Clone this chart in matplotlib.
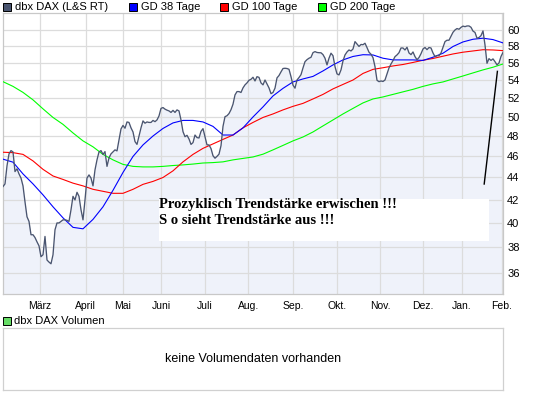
import matplotlib
matplotlib.use('Agg')
import matplotlib.pyplot as plt
import numpy as np
from matplotlib.patches import Rectangle
from matplotlib.ticker import FixedLocator, NullLocator

# ---------------- data ----------------
# daily closes of dbx DAX (trading-day index 0 .. 250, Feb 2009 - Feb 2010)
price = [
    43.17, 43.41, 45.09, 46.24, 46.56, 46.43, 44.55, 44.81, 44.33, 43.95,
    43.23, 41.80, 40.51, 40.12, 39.01, 39.01, 38.78, 38.43, 38.11, 37.25,
    37.40, 38.87, 36.99, 36.83, 36.70, 37.40, 39.42, 39.99, 39.99, 40.12,
    40.25, 40.25, 40.21, 40.12, 41.11, 42.29, 41.97, 42.65, 42.29, 41.11,
    40.25, 41.97, 43.95, 44.24, 43.95, 43.23, 44.71, 45.66, 46.43, 46.56,
    46.19, 46.46, 45.04, 45.85, 46.24, 46.43, 46.63, 46.53, 47.62, 48.73,
    49.09, 48.80, 49.45, 49.40, 48.84, 48.42, 47.45, 47.17, 48.01, 48.84,
    49.56, 49.32, 49.45, 49.40, 49.40, 49.61, 49.48, 49.66, 50.08, 50.88,
    50.97, 50.80, 50.69, 50.61, 50.45, 50.67, 50.45, 50.72, 50.61, 49.66,
    48.45, 47.94, 48.08, 47.71, 47.17, 47.35, 48.11, 47.85, 47.81, 48.48,
    48.76, 47.94, 47.12, 47.12, 46.76, 46.06, 45.82, 46.00, 46.21, 47.04,
    48.99, 50.00, 50.10, 50.33, 50.74, 51.33, 52.34, 52.71, 52.71, 52.61,
    53.12, 53.46, 53.68, 53.98, 54.09, 54.32, 53.90, 54.39, 54.31, 53.68,
    53.46, 54.01, 53.57, 53.12, 52.48, 52.61, 53.09, 54.25, 54.52, 54.94,
    55.33, 55.36, 55.33, 55.24, 54.39, 53.43, 53.09, 54.01, 54.29, 54.62,
    55.40, 56.13, 56.37, 56.54, 56.65, 57.21, 57.33, 57.23, 57.20, 57.19,
    56.97, 56.54, 55.75, 56.54, 57.14, 56.84, 55.55, 54.71, 54.59, 55.17,
    56.22, 56.93, 57.29, 57.53, 57.41, 57.65, 58.55, 58.26, 57.96, 58.20,
    58.17, 58.35, 57.82, 57.26, 57.02, 56.61, 55.55, 53.98, 53.82, 53.90,
    53.84, 54.01, 54.71, 55.40, 55.86, 56.26, 56.73, 56.93, 57.20, 57.77,
    57.77, 57.53, 57.86, 57.17, 56.97, 57.29, 56.73, 56.37, 56.62, 57.08,
    57.65, 57.83, 57.57, 57.83, 57.77, 57.17, 56.73, 56.85, 56.85, 57.17,
    57.86, 58.55, 58.72, 58.72, 59.20, 59.71, 60.00, 60.18, 60.09, 60.33,
    60.49, 60.42, 60.51, 60.51, 60.34, 59.86, 59.69, 58.97, 59.06, 59.29,
    59.88, 58.14, 55.94, 56.49, 56.28, 56.46, 56.13, 55.75, 55.98, 56.75,
    57.23,
]

# moving averages, sampled every ma_step trading days
ma_step = 5
gd38 = [
    45.73, 45.44, 44.33, 43.41, 42.42, 41.37, 40.42, 39.62, 39.50, 40.29,
    41.37, 42.83, 44.47, 45.99, 47.12, 48.01, 48.78, 49.35, 49.61, 49.61,
    49.45, 48.99, 48.11, 48.11, 48.84, 49.97, 51.04, 52.23, 53.07, 53.79,
    54.13, 54.42, 55.05, 55.75, 56.34, 56.75, 56.96, 56.93, 56.54, 56.34,
    56.34, 56.34, 56.28, 56.66, 57.14, 57.95, 58.51, 58.84, 58.97, 58.80,
    58.39,
]
gd100 = [
    46.40, 46.36, 46.19, 45.56, 44.76, 44.14, 43.82, 43.48, 43.23, 42.92,
    42.74, 42.56, 42.56, 42.92, 43.37, 43.64, 44.00, 44.62, 45.47, 46.19,
    46.78, 47.22, 47.67, 48.11, 48.84, 49.40, 49.92, 50.29, 50.72, 51.10,
    51.42, 51.90, 52.40, 53.01, 53.51, 54.01, 54.76, 55.23, 55.42, 55.63,
    55.80, 56.04, 56.30, 56.51, 56.78, 57.05, 57.26, 57.41, 57.56, 57.53,
    57.45,
]
gd200 = [
    53.82, 53.29, 52.62, 51.80, 50.83, 49.92, 49.20, 48.32, 47.52, 46.93,
    46.19, 45.66, 45.23, 45.04, 44.99, 44.99, 45.04, 45.12, 45.18, 45.26,
    45.36, 45.40, 45.47, 45.66, 45.80, 45.94, 46.21, 46.63, 47.07, 47.52,
    47.91, 48.42, 49.04, 49.66, 50.29, 50.88, 51.47, 51.90, 52.12, 52.40,
    52.68, 52.96, 53.29, 53.57, 53.79, 54.13, 54.47, 54.82, 55.17, 55.48,
    55.86,
]

months = ['März', 'April', 'Mai', 'Juni', 'Juli', 'Aug.', 'Sep.', 'Okt.',
          'Nov.', 'Dez.', 'Jan.', 'Feb.']
month_pos = [18.5, 41.35, 59.85, 79.15, 101.0, 122.65, 145.15, 166.85,
             188.5, 210.15, 229.35, 249.35]
yticks = [36, 38, 40, 42, 44, 46, 48, 50, 52, 54, 56, 58, 60]

# hand-drawn annotation line (trading day, value)
note_days = [240.6, 247.2]
note_vals = [43.4, 55.0]
note_lines = ['Prozyklisch Trendstärke erwischen !!!',
              'S o sieht Trendstärke aus !!!']

legend_items = [('dbx DAX (L&S RT)', '#4a5570'), ('GD 38 Tage', '#0000ff'),
                ('GD 100 Tage', '#ff0000'), ('GD 200 Tage', '#00ff00')]

# ---------------- figure ----------------
W, H = 545, 395
fig = plt.figure(figsize=(W / 100, H / 100), dpi=100)
fig.patch.set_facecolor('white')


def fx(px):
    return px / W


def fy(py):
    return 1 - py / H


SANS = ['Liberation Sans', 'DejaVu Sans']

# main axes
ax = fig.add_axes([fx(3), fy(294), 500 / W, 281 / H])
days = np.arange(len(price))
ma_days = np.arange(len(gd38)) * ma_step

ax.fill_between(days, price, 30, color='#eff2fa', lw=0, zorder=0.2)
ax.plot(ma_days, gd200, color='#00ff00', lw=0.8, zorder=3)
ax.plot(ma_days, gd100, color='#ff0000', lw=0.8, zorder=3)
ax.plot(ma_days, gd38, color='#0000ff', lw=0.8, zorder=3)
ax.plot(days, price, color='#4a5570', lw=0.95, zorder=4)
ax.plot(note_days, note_vals, color='black', lw=1.0, zorder=5)

ax.set_yscale('log')
ax.set_ylim(34.44, 62.18)
ax.set_xlim(0, 250)
ax.yaxis.set_major_locator(FixedLocator(yticks))
ax.yaxis.set_minor_locator(NullLocator())
ax.set_yticklabels([str(t) for t in yticks])
ax.yaxis.tick_right()
ax.set_xticks(month_pos)
ax.set_xticklabels(months)
ax.xaxis.set_minor_locator(NullLocator())
ax.tick_params(axis='y', length=0, pad=3, labelsize=8)
ax.tick_params(axis='x', length=0, pad=5, labelsize=7.5)
for lab in ax.get_xticklabels() + ax.get_yticklabels():
    lab.set_family(SANS)
ax.grid(True, color='#dcdcdc', lw=0.9)
ax.set_axisbelow(True)
for s in ax.spines.values():
    s.set_color('#c8c8c8')
    s.set_linewidth(0.9)

# white text box
ax.add_patch(Rectangle((0.311, 0.189), 0.661, 0.148, transform=ax.transAxes,
                       facecolor='white', edgecolor='none', zorder=2))
ax.text(0.312, 0.318, note_lines[0], transform=ax.transAxes,
        family=['Liberation Serif', 'DejaVu Serif'], fontsize=10.5,
        fontweight='bold', va='center', ha='left', zorder=6)
ax.text(0.312, 0.262, note_lines[1], transform=ax.transAxes,
        family=['Liberation Serif', 'DejaVu Serif'], fontsize=10.5,
        fontweight='bold', va='center', ha='left', zorder=6)

# top legend
leg_x = [3, 129, 220, 318]
for (label, col), x0 in zip(legend_items, leg_x):
    fig.add_artist(Rectangle((fx(x0), fy(11)), 8 / W, 8 / H,
                             transform=fig.transFigure, facecolor=col,
                             edgecolor='black', lw=0.7))
    fig.text(fx(x0 + 12), fy(7), label, family=SANS, fontsize=8,
             va='center', ha='left')

# volume panel
fig.add_artist(Rectangle((fx(3), fy(325)), 8 / W, 8 / H,
                         transform=fig.transFigure, facecolor='#66dd66',
                         edgecolor='black', lw=0.7))
fig.text(fx(14.5), fy(321), 'dbx DAX Volumen', family=SANS, fontsize=8,
         va='center', ha='left')

vax = fig.add_axes([fx(3), fy(390), 500 / W, 62 / H])
vax.set_xticks([])
vax.set_yticks([])
for s in vax.spines.values():
    s.set_color('#d0d0d0')
    s.set_linewidth(0.9)
vax.text(0.5, 0.5, 'keine Volumendaten vorhanden', transform=vax.transAxes,
         family=SANS, fontsize=9, ha='center', va='center')

fig.savefig('out.png', dpi=100)
